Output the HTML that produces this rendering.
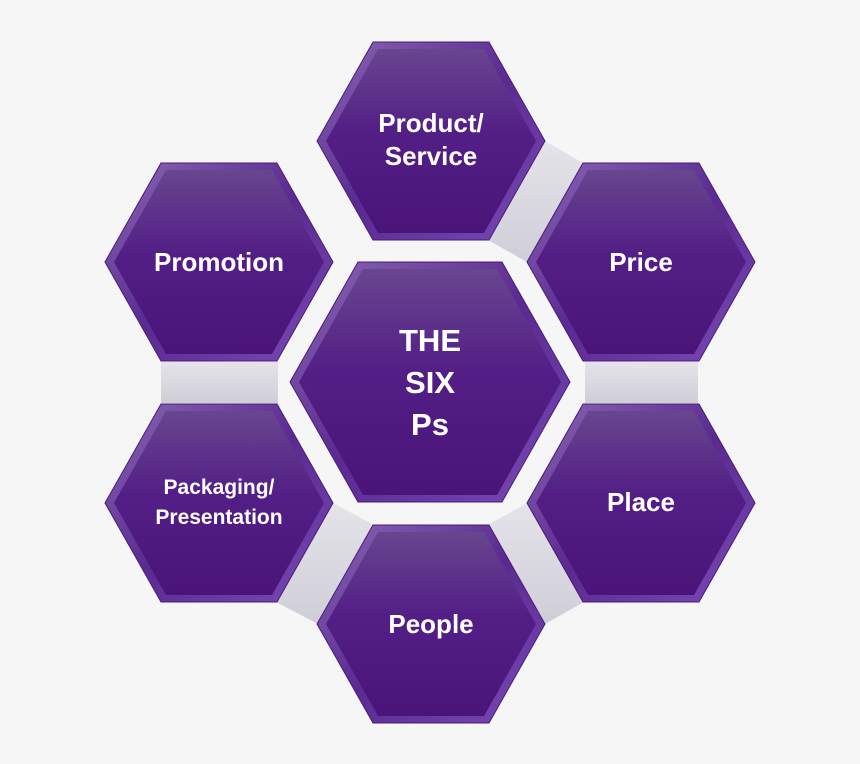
<!DOCTYPE html>
<html><head><meta charset="utf-8"><style>
html,body{margin:0;padding:0;background:#f6f6f6;}
svg{display:block}
text{font-family:"Liberation Sans",sans-serif;font-weight:bold;fill:#fff;text-anchor:middle;}
</style></head><body>
<svg width="860" height="764" viewBox="0 0 860 764" xmlns="http://www.w3.org/2000/svg" xmlns:xlink="http://www.w3.org/1999/xlink">
<defs>
<linearGradient id="g" x1="0" y1="0" x2="0" y2="1">
<stop offset="0" stop-color="#68468f"/><stop offset="0.45" stop-color="#531f86"/><stop offset="1" stop-color="#4a1479"/>
</linearGradient>
<linearGradient id="b" x1="0" y1="0" x2="1" y2="1">
<stop offset="0" stop-color="#8a68b4"/><stop offset="0.5" stop-color="#5a2a90"/><stop offset="1" stop-color="#7a4ab8"/>
</linearGradient>
<linearGradient id="c" x1="0" y1="0" x2="0" y2="1">
<stop offset="0" stop-color="#e6e4ea"/><stop offset="1" stop-color="#cfcdd6"/>
</linearGradient>
<g id="h">
<polygon points="-58,-99 58,-99 114,0 58,99 -58,99 -114,0" fill="url(#b)" stroke="#4a1a78" stroke-width="1"/>
<polygon points="-53,-92 53,-92 105,0 53,92 -53,92 -105,0" fill="url(#g)"/>
</g>
</defs>
<g fill="url(#c)">
<polygon points="545,141 583,163 527,262 488,240"/>
<polygon points="161,362 278,362 278,403 161,403"/>
<polygon points="585,362 698,362 698,403 585,403"/>
<polygon points="527,503 584,602 545,624 488,525"/>
<polygon points="333,503 374,525 318,624 276,602"/>
</g>
<use xlink:href="#h" href="#h" x="431" y="141"/>
<use xlink:href="#h" href="#h" x="641" y="262"/>
<use xlink:href="#h" href="#h" x="641" y="503"/>
<use xlink:href="#h" href="#h" x="431" y="624"/>
<use xlink:href="#h" href="#h" x="219" y="503"/>
<use xlink:href="#h" href="#h" x="219" y="262"/>
<g transform="translate(430,382)">
<polygon points="-72,-120 72,-120 140,0 72,120 -72,120 -140,0" fill="url(#b)" stroke="#4a1a78" stroke-width="1"/>
<polygon points="-67,-113 67,-113 131,0 67,113 -67,113 -131,0" fill="url(#g)"/>
</g>
<text x="431" y="132" font-size="26">Product/</text>
<text x="431" y="165" font-size="26">Service</text>
<text x="641" y="271" font-size="26">Price</text>
<text x="641" y="511" font-size="26">Place</text>
<text x="431" y="633" font-size="26">People</text>
<text x="219" y="271" font-size="26">Promotion</text>
<text x="219" y="494" font-size="21">Packaging/</text>
<text x="219" y="524" font-size="21">Presentation</text>
<text x="430" y="351" font-size="31">THE</text>
<text x="430" y="393" font-size="31">SIX</text>
<text x="430" y="435" font-size="31">Ps</text>
</svg>
</body></html>
